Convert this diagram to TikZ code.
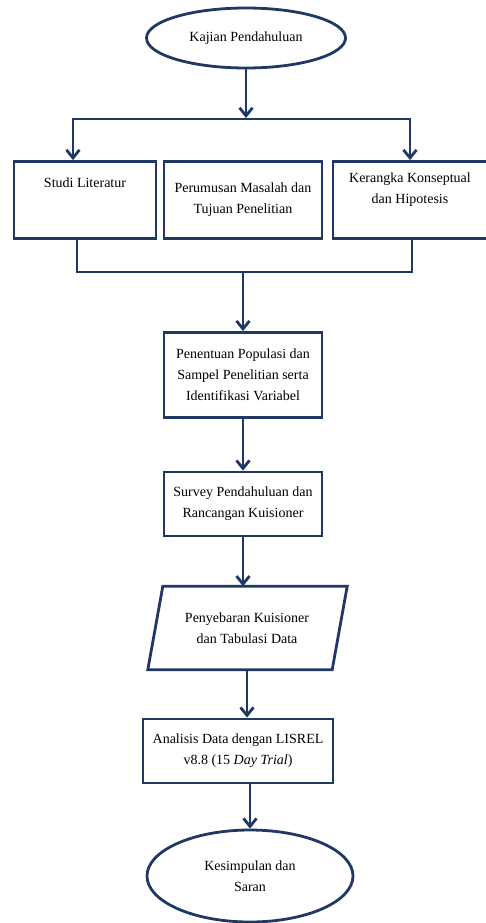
\documentclass[tikz,border=0pt]{standalone}
\usepackage{fontspec}
\setmainfont{Liberation Serif}
\usetikzlibrary{shapes.geometric,arrows.meta}
\definecolor{biru}{RGB}{32,56,100}
\tikzset{
	kotak/.style={draw=biru, line width=2.8pt, rectangle, inner sep=2pt, align=center},
	oval/.style={draw=biru, line width=2.8pt, ellipse, inner sep=0pt, align=center},
	genjang/.style={rectangle, inner sep=0pt, align=center},
	panah/.style={draw=biru, line width=2.8pt, -{Straight Barb[length=8pt,width=13pt]}},
	garis/.style={draw=biru, line width=2.8pt, line join=miter}
}
\begin{document}
\begin{tikzpicture}[x=1pt, y=-1pt, font=\fontsize{14}{21}\selectfont]
	\useasboundingbox (0,0) rectangle (485,923);
	% Bentuk
	\node[oval, minimum width=199pt, minimum height=60pt] (kajian) at (246,38) {Kajian Pendahuluan};
	\node[kotak, minimum width=142pt, minimum height=77pt] (lit) at (85,200) {};
	\node[kotak, minimum width=158pt, minimum height=77pt] (rumus) at (243,200) {Perumusan Masalah dan\\Tujuan Penelitian};
	\node[kotak, minimum width=154pt, minimum height=77pt] (konsep) at (410,200) {};
	\node (littxt) at (85,183) {Studi Literatur};
	\node[align=center] (konseptxt) at (410,190) {Kerangka Konseptual\\dan Hipotesis};
	\node[kotak, minimum width=158pt, minimum height=85pt] (populasi) at (243,375) {Penentuan Populasi dan\\Sampel Penelitian serta\\Identifikasi Variabel};
	\node[kotak, minimum width=158pt, minimum height=64pt] (survey) at (243,504) {Survey Pendahuluan dan\\Rancangan Kuisioner};
	\node[genjang, minimum width=184pt, minimum height=83pt] (sebar) at (247,628) {Penyebaran Kuisioner\\dan Tabulasi Data};
	\draw[garis] ([xshift=8pt]sebar.north west) -- ([xshift=8pt]sebar.north east) -- ([xshift=-7pt]sebar.south east) -- ([xshift=-7pt]sebar.south west) -- cycle;
	\node[kotak, minimum width=190pt, minimum height=64pt] (analisis) at (238,751) {Analisis Data dengan LISREL\\v8.8 (15 \textit{Day Trial})};
	\node[oval, minimum width=206pt, minimum height=92pt] (simpul) at (250,876) {Kesimpulan dan\\Saran};
	% Percabangan
	\coordinate (busA) at (73,119); \coordinate (busB) at (410,119);
	\coordinate (busC) at (77,272); \coordinate (busD) at (412,272);
	\coordinate (busE) at (243,272);
	\draw[panah, shorten >=1pt] (kajian.south) -- (kajian.south |- busA);
	\draw[garis, {Straight Barb[length=8pt,width=13pt]}-{Straight Barb[length=8pt,width=13pt]}] (busA |- lit.north) -- (busA) -- (busB) -- (busB |- konsep.north);
	\draw[garis] (busC |- lit.south) -- (busC) -- (busD) -- (busD |- konsep.south);
	\draw[panah] (busE) -- (busE |- populasi.north);
	% Alur
	\draw[panah] (populasi.south) -- (populasi.south |- survey.north);
	\draw[panah] (survey.south) -- (survey.south |- sebar.north);
	\draw[panah] (sebar.south) -- (analisis.north -| sebar.south);
	\draw[panah] (analisis.south -| simpul.north) -- (simpul.north);
\end{tikzpicture}
\end{document}
